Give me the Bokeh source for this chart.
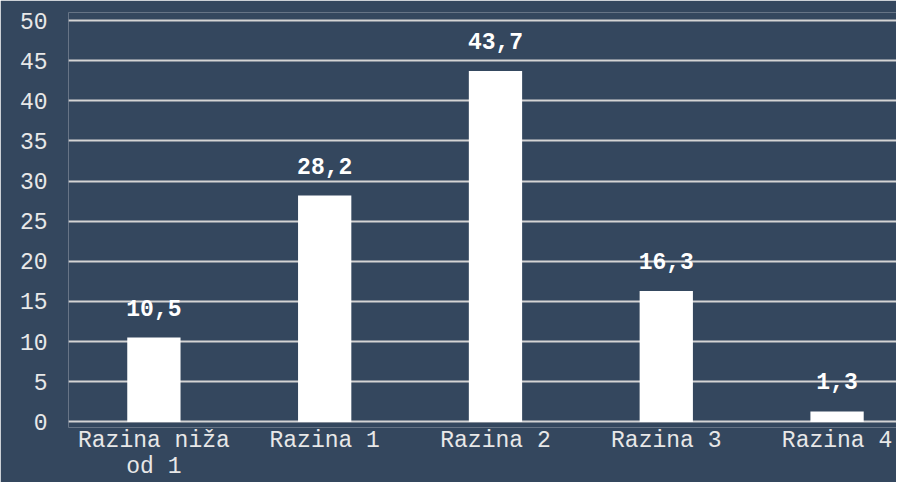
from bokeh.plotting import figure
from bokeh.models import ColumnDataSource, Range1d, FixedTicker
from bokeh.core.properties import value
from bokeh.embed import file_html
from bokeh.resources import INLINE

categories = ["Razina niža\nod 1", "Razina 1", "Razina 2", "Razina 3", "Razina 4"]
values = [10.5, 28.2, 43.7, 16.3, 1.3]
value_labels = ["10,5", "28,2", "43,7", "16,3", "1,3"]
y_ticks = [0, 5, 10, 15, 20, 25, 30, 35, 40, 45, 50]

BG = "#34475e"
FONT = "Liberation Mono"

positions = list(range(len(categories)))
src = ColumnDataSource(dict(x=positions, top=values, lab=value_labels))

p = figure(width=896, height=482, output_backend="svg", toolbar_location=None,
           x_range=Range1d(-0.5, 4.348), y_range=Range1d(-0.7, 51),
           min_border_left=68, min_border_right=0, min_border_top=12,
           min_border_bottom=54)
p.background_fill_color = BG
p.border_fill_color = BG
p.outline_line_color = None

p.vbar(x="x", top="top", bottom=0, width=0.312, source=src,
       fill_color="white", line_color=None)
p.text(x="x", y="top", text="lab", source=src, text_align="center",
       text_baseline="alphabetic", y_offset=-30, text_color="white",
       text_font=value(FONT), text_font_size="23px", text_font_style="bold")

p.xgrid.grid_line_color = None
p.ygrid.grid_line_color = "#d4d4d4"
p.ygrid.grid_line_width = 2
p.ygrid.ticker = FixedTicker(ticks=y_ticks)

p.yaxis.ticker = FixedTicker(ticks=y_ticks)
p.xaxis.ticker = FixedTicker(ticks=positions)
p.xaxis.major_label_overrides = {i: c for i, c in enumerate(categories)}

for ax in (p.xaxis[0], p.yaxis[0]):
    ax.axis_line_color = None
    ax.major_tick_line_color = None
    ax.minor_tick_line_color = None
    ax.major_tick_out = 0
    ax.major_tick_in = 0
    ax.minor_tick_out = 0
    ax.major_label_text_font = FONT
    ax.major_label_text_font_size = "23px"
    ax.major_label_text_color = "#e8e8e8"

p.yaxis.major_label_standoff = 21
p.xaxis.major_label_standoff = 0
p.xaxis.major_label_text_line_height = 1.0

open("out.html", "w").write(file_html(p, INLINE))
